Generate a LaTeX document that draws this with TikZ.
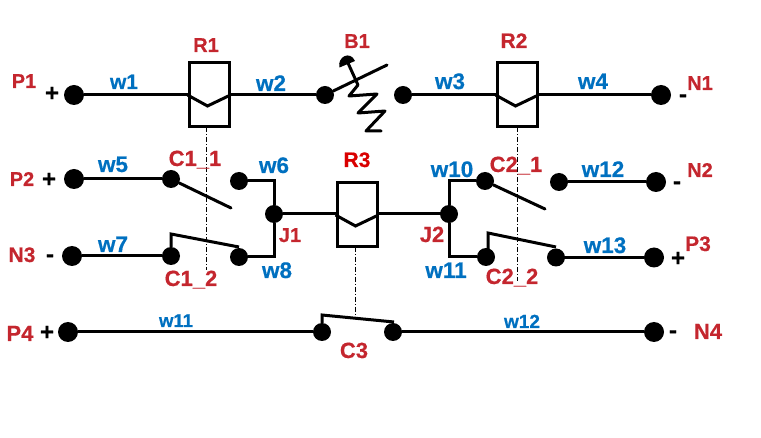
\documentclass[tikz,border=0pt]{standalone}
\usepackage{fontspec}
\setmainfont[BoldFeatures={FakeBold=0.5}]{Liberation Sans}
\definecolor{lblred}{RGB}{196,38,46}
\definecolor{lblblue}{RGB}{0,112,192}
\tikzset{x=1pt,y=-1pt,
 wire/.style={line width=3pt,line cap=round,line join=miter},
 link/.style={line width=.8pt,dash pattern=on 5pt off 2pt on 1pt off 2pt},
 bigdot/.style={circle,fill=black,inner sep=0pt,minimum size=20pt},
 dot/.style={circle,fill=black,inner sep=0pt,minimum size=18pt},
 rl/.style={text=lblred,font=\bfseries\fontsize{#1}{#1}\selectfont,inner sep=0pt,anchor=base},
 rl/.default=20,
 bl/.style={text=lblblue,font=\bfseries\fontsize{#1}{#1}\selectfont,inner sep=0pt,anchor=base},
 bl/.default=22.5,
 sg/.style={font=\bfseries\fontsize{24}{24}\selectfont,inner sep=0pt,anchor=base},
 relay/.style={draw,line width=3pt,minimum width=40pt,minimum height=64pt,inner sep=0pt,fill=white}}
\begin{document}
\begin{tikzpicture}
\useasboundingbox (0,0) rectangle (761,438);
% dashed links (behind)
\coordinate (l1a) at (206.5,127); \coordinate (l1b) at (206.5,270);
\coordinate (l2a) at (517,127); \coordinate (l2b) at (517,281);
\coordinate (l3a) at (355,247); \coordinate (l3b) at (355,318);
\draw[link] (l1a)--(l1b); \draw[link] (l2a)--(l2b); \draw[link] (l3a)--(l3b);
% relays
\node[relay] (R1) at (209,95) {};
\node[relay] (R2) at (517,95) {};
\node[relay] (R3) at (357,215) {};
\foreach \r in {R1,R2,R3}{\draw[wire,line cap=butt] (\r.west)--++(20,11)--(\r.east);}
% dots row 1
\node[bigdot] (P1) at (74,95) {};
\node[dot] (B1L) at (325,95) {};
\node[dot] (B1R) at (403,95) {};
\node[bigdot] (N1) at (661,95) {};
\draw[wire] (P1)--(R1.west); \draw[wire] (R1.east)--(B1L);
\draw[wire] (B1R)--(R2.west); \draw[wire] (R2.east)--(N1);
% breaker
\coordinate (B1a) at (387,65); \coordinate (B1b) at (358,85);
\coordinate (B1k) at (348,63);
\draw[wire] (B1L)--(B1a);
\draw[wire,line cap=butt] (B1k)--(B1b);
\draw[wire,line join=round] (B1b)--(349,96)--(377,94)--(358,113)--(385,111)--(366,131)--(381,131);
\fill (339.5,67.5) .. controls (337,57) and (350,50) .. (355,61) -- cycle;
% row 2
\node[bigdot] (P2) at (74,179) {};
\node[dot] (C11) at (171,179) {};
\node[dot] (T6) at (239,181) {};
\node[dot] (J1) at (274,214) {};
\node[dot] (T8) at (239,257) {};
\node[dot] (C12) at (171,256) {};
\node[bigdot] (N3) at (72,256) {};
\coordinate (S1) at (231,208);
\coordinate (S2a) at (171,234); \coordinate (S2b) at (239,247);
\draw[wire] (P2)--(C11);
\draw[wire] (C11)--(S1);
\draw[wire] (T6)-|(J1);
\draw[wire] (T8)-|(J1);
\draw[wire] (N3)--(C12);
\draw[wire,line cap=butt] (C12)--(S2a)--(S2b);
\draw[wire] (J1)--(R3.west|-J1); \draw[wire] (R3.east|-J1)--(449,214);
% right
\node[dot] (J2) at (449,214) {};
\node[dot] (C21) at (485,181) {};
\node[dot] (C22) at (486,257) {};
\node[dot] (T12) at (559,182) {};
\node[dot] (T13) at (556,257.5) {};
\node[bigdot] (N2) at (656,182) {};
\node[bigdot] (P3) at (654,257.5) {};
\coordinate (S3) at (545,209);
\coordinate (S4a) at (488,233); \coordinate (S4b) at (556,247);
\draw[wire] (C21)-|(J2);
\draw[wire] (C22)-|(J2);
\draw[wire] (C21)--(S3);
\draw[wire,line cap=butt] (C22.center -| S4a)--(S4a)--(S4b);
\draw[wire] (T12)--(N2);
\draw[wire] (T13)--(P3);
% row 3
\node[bigdot] (P4) at (68,332) {};
\node[dot] (C3L) at (322,332) {};
\node[dot] (C3R) at (393,332) {};
\node[bigdot] (N4) at (654,332) {};
\coordinate (S5a) at (322,315); \coordinate (S5b) at (394,322);
\draw[wire] (P4)--(C3L);
\draw[wire] (C3R)--(N4);
\draw[wire,line cap=butt] (C3L)--(S5a)--(S5b);
% labels
\node[rl] (tP1) at (24,88) {P1};
\node[rl] (tR1) at (206,52) {R1};
\node[rl] (tB1) at (357,48) {B1};
\node[rl=21] (tR2) at (514,48) {R2};
\node[rl] (tN1) at (700,90) {N1};
\node[rl] (tP2) at (22,186) {P2};
\node[rl=21] (tN3) at (22,262) {N3};
\node[rl=22] (tC11) at (195,166) {C1\_1};
\node[rl=22] (tC12) at (191,286) {C1\_2};
\node[rl] (tJ1) at (290,242) {J1};
\node[rl=21,text=red!85!black] (tR3) at (357,167) {R3};
\node[rl=22] (tJ2) at (432,242) {J2};
\node[rl=22] (tC21) at (516,172) {C2\_1};
\node[rl=22] (tC22) at (512,284) {C2\_2};
\node[rl] (tN2) at (700,177) {N2};
\node[rl=21] (tP3) at (698,251) {P3};
\node[rl=22] (tP4) at (20,341) {P4};
\node[rl=22] (tC3) at (354,358) {C3};
\node[rl=22] (tN4) at (708,339) {N4};
\node[bl=21] (w1) at (124,89) {w1};
\node[bl] (w2) at (271,91) {w2};
\node[bl] (w3) at (450,89) {w3};
\node[bl] (w4) at (593,89) {w4};
\node[bl] (w5) at (113,172) {w5};
\node[bl] (w6) at (274,173) {w6};
\node[bl] (w7) at (113,252) {w7};
\node[bl] (w8) at (277,278) {w8};
\node[bl] (w10) at (452,177) {w10};
\node[bl] (w11a) at (446,278) {w11};
\node[bl] (w12a) at (603,177) {w12};
\node[bl] (w13) at (605,253) {w13};
\node[bl=18.5] (w11b) at (176,327) {w11};
\node[bl=19] (w12b) at (522,328) {w12};
\node[sg] (pP1) at (52,101) {+};
\node[sg] (pP2) at (49,187) {+};
\node[sg] (pP3) at (678,266) {+};
\node[sg] (pP4) at (47,340) {+};
\node[sg] (mN1) at (683,102) {-};
\node[sg] (mN2) at (677,189) {-};
\node[sg] (mN3) at (50,262) {-};
\node[sg] (mN4) at (673,338) {-};
\end{tikzpicture}
\end{document}
